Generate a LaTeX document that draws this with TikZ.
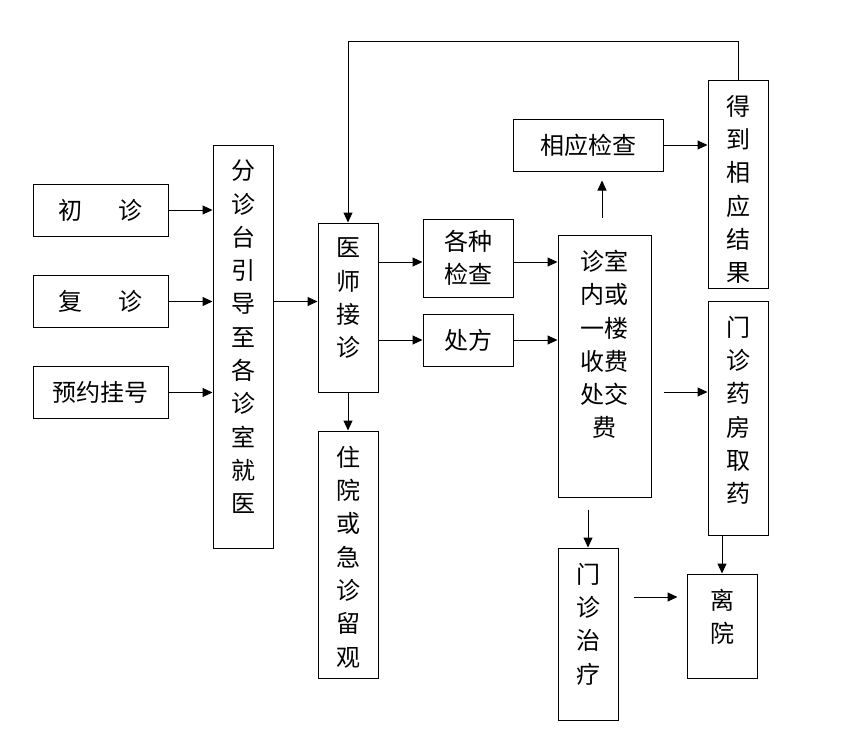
\documentclass[tikz,border=0pt]{standalone}
\usepackage{fontspec}
\newfontfamily\cjk{Noto Sans CJK SC}
\usetikzlibrary{arrows.meta,calc}
\newcommand\topt[3]{\parbox[c][#1pt][t]{#2pt}{\centering\vspace*{15pt}#3\par}}
\begin{document}
\begin{tikzpicture}[x=1pt,y=-1pt,
  box/.style={draw, line width=1pt, inner sep=0pt, align=center, font=\fontsize{24}{33.3}\selectfont\cjk},
  arr/.style={line width=1pt, -{Triangle[length=10pt,width=9pt]}}]
\useasboundingbox[fill=white] (0,0) rectangle (859,736);
% boxes
\node[box, minimum width=135pt, minimum height=52pt] (chu) at (100.5,210) {初\hspace{37pt}诊};
\node[box, minimum width=135pt, minimum height=52pt] (fu) at (100.5,301.5) {复\hspace{37pt}诊};
\node[box, minimum width=135pt, minimum height=52pt] (yy) at (100.5,392.5) {预约挂号};
\node[box, minimum width=60pt, minimum height=403pt] (fen) at (243,346.5) {\topt{403}{50}{分\\诊\\台\\引\\导\\至\\各\\诊\\室\\就\\医}};
\node[box, minimum width=60pt, minimum height=169pt] (yishi) at (348,307.5) {\topt{169}{50}{医\\师\\接\\诊}};
\node[box, minimum width=60pt, minimum height=247pt] (zy) at (348,554.5) {\topt{247}{50}{住\\院\\或\\急\\诊\\留\\观}};
\node[box, minimum width=90pt, minimum height=78pt] (gz) at (468,258) {各种\\检查};
\node[box, minimum width=90pt, minimum height=52pt] (cf) at (468,340) {处方};
\node[box, minimum width=150pt, minimum height=52pt] (xy) at (588,145) {相应检查};
\node[box, minimum width=93pt, minimum height=262pt] (zs) at (604.5,366) {\topt{262}{85}{诊室\\内或\\一楼\\收费\\处交\\费}};
\node[box, minimum width=60pt, minimum height=208pt] (dd) at (738,184) {\topt{208}{50}{得\\到\\相\\应\\结\\果}};
\node[box, minimum width=60pt, minimum height=234pt] (yf) at (738,418) {\topt{234}{50}{门\\诊\\药\\房\\取\\药}};
\node[box, minimum width=60pt, minimum height=172pt] (zl) at (588,634) {\topt{172}{50}{门\\诊\\治\\疗}};
\node[box, minimum width=70pt, minimum height=104pt] (ly) at (722,626) {\topt{104}{60}{离\\院}};
% helper rows/columns
\coordinate (r262) at (0,262);
\coordinate (r392) at (0,392);
\coordinate (r597) at (0,597);
\coordinate (c602) at (602,0);
% connectors
\draw[arr] (chu.east) -- (chu.east -| fen.west);
\draw[arr] (fu.east) -- (fu.east -| fen.west);
\draw[arr] (yy.east) -- (yy.east -| fen.west);
\draw[arr] (fen.east |- fu) -- (yishi.west |- fu);
\draw[arr] (yishi.east |- r262) -- (gz.west |- r262);
\draw[arr] (yishi.east |- cf) -- (cf.west);
\draw[arr] (gz.east |- r262) -- (zs.west |- r262);
\draw[arr] (cf.east) -- (zs.west |- cf);
\draw[arr, shorten <=17pt, shorten >=9pt] (zs.north -| c602) -- (xy.south -| c602);
\draw[arr] (xy.east) -- (dd.west |- xy);
\draw[arr] (dd.north) -- ++(0,-38) -| (yishi.north);
\draw[arr] (yishi.south) -- (zy.north);
\draw[arr, shorten <=12pt] (zs.east |- r392) -- (yf.west |- r392);
\draw[arr] (yf.south -| ly) -- (ly.north);
\draw[arr, shorten <=12pt] (zs.south -| zl) -- (zl.north);
\draw[arr, shorten <=15pt, shorten >=9pt] (zl.east |- r597) -- (ly.west |- r597);
\end{tikzpicture}
\end{document}
